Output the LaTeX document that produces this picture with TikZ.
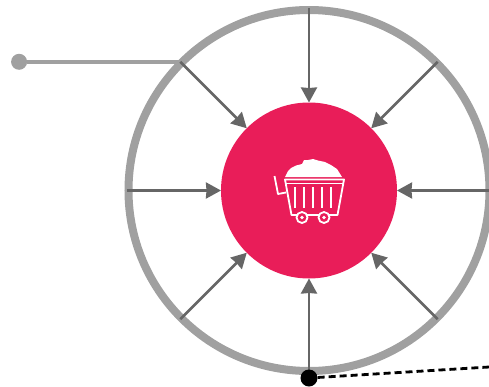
\documentclass[tikz,border=0pt]{standalone}
\usepackage{tikz}
\usetikzlibrary{arrows.meta,positioning}
\definecolor{rimgray}{HTML}{A0A0A0}
\definecolor{spokegray}{HTML}{666666}
\definecolor{hubred}{HTML}{E91D59}
\tikzstyle{rim}=[circle,draw=rimgray,line width=8pt,minimum size=361pt,inner sep=0pt,outer sep=1.5pt]
\tikzstyle{hub}=[circle,fill=hubred,minimum size=176pt,inner sep=0pt,outer sep=0pt]
\tikzstyle{spoke}=[draw=spokegray,line width=2.6pt,-{Stealth[length=15pt,width=16pt,inset=0.5pt]}]
\tikzstyle{gray dot}=[circle,fill=rimgray,minimum size=16pt,inner sep=0pt]
\tikzstyle{black dot}=[circle,fill=black,minimum size=17pt,inner sep=0pt]
\tikzstyle{cart line}=[draw=white,line width=1.8pt,line join=round]
\begin{document}
\begin{tikzpicture}[x=1pt,y=1pt]
  \useasboundingbox (-309,190.5) rectangle (180,-195.5);

  \node[rim] (outerRing) at (0,0) {};
  \node[hub] (hubCircle) at (0,0) {};

  % Lead on the left

  \node[gray dot, left = 153pt of outerRing.135] (leadDot) {};
  \draw[draw=rimgray,line width=4pt] (leadDot) -- (outerRing.135);

  % Spokes from the ring to the hub

  \path (outerRing.90) edge[spoke] (hubCircle);
  \path (outerRing.45) edge[spoke] (hubCircle);
  \path (outerRing.0) edge[spoke] (hubCircle);
  \path (outerRing.-45) edge[spoke] (hubCircle);
  \path (outerRing.-90) edge[spoke] (hubCircle);
  \path (outerRing.-135) edge[spoke] (hubCircle);
  \path (outerRing.180) edge[spoke] (hubCircle);
  \path (outerRing.135) edge[spoke] (hubCircle);

  % Dashed lead at the bottom

  \node[black dot] (bottomDot) at (0,-187.5) {};
  \coordinate (dashEnd) at (180,-176.5);
  \draw[line width=2.8pt,dash pattern=on 7pt off 4pt] (bottomDot) -- (dashEnd);

  % Cart icon, in picture pixels

  \begin{scope}[shift={(-309,190.5)},y=-1pt]
    \fill[white] (285,177) -- (288,171) -- (291,168) -- (296,165.5) -- (302,164) -- (304,160) -- (308,160)
      -- (313,159) -- (318,160.5) -- (325,162) -- (331,165) -- (337,169) -- (342,177) -- cycle;
    \draw[cart line] (285,179.5) -- (344,179.5) -- (337.5,215) -- (291.5,215) -- cycle;
    \draw[cart line] (285.5,183.5) -- (343.5,183.5);
    \draw[cart line] (274.5,176) -- (278,194) -- (286,192.5);
    \foreach \barx in {295,304,313,322,331}
      \draw[draw=white,line width=2.6pt] (\barx,187) -- (\barx,208);
    \node[circle,draw=white,fill=hubred,line width=1.8pt,minimum size=11pt,inner sep=0pt] (wheelLeft) at (302,217.5) {};
    \node[circle,draw=white,fill=hubred,line width=1.8pt,minimum size=11pt,inner sep=0pt] (wheelRight) at (324,217.5) {};
    \fill[white] (wheelLeft) circle (1.8);
    \fill[white] (wheelRight) circle (1.8);
  \end{scope}
\end{tikzpicture}
\end{document}
